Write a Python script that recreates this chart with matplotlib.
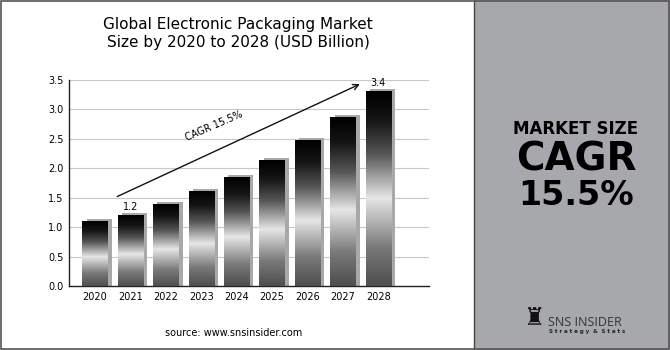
import numpy as np
import matplotlib.pyplot as plt
from matplotlib.colors import LinearSegmentedColormap
from matplotlib.patches import Rectangle
from matplotlib.lines import Line2D

# chart data
years = ['2020', '2021', '2022', '2023', '2024', '2025', '2026', '2027', '2028']
market_size = [1.1, 1.2, 1.38, 1.6, 1.85, 2.14, 2.47, 2.86, 3.3]
bar_labels = {1: '1.2', 8: '3.4'}
cagr_text = 'CAGR 15.5%'

PANEL_GREY = '#a7a8ab'

plt.rcParams['font.family'] = ['DejaVu Sans']


def px(x, y):
    # figure fraction from pixel coords (top-left origin)
    return x / 670, 1 - y / 350


fig = plt.figure(figsize=(6.7, 3.5), dpi=100)

# right grey panel and frame
fig.patches.append(Rectangle((474 / 670, 0), 1 - 474 / 670, 1, transform=fig.transFigure,
                             facecolor=PANEL_GREY, edgecolor='none', zorder=0))
fig.patches.append(Rectangle((0.0015, 0.003), 0.997, 0.994, transform=fig.transFigure,
                             facecolor='none', edgecolor='#555555', lw=1.2, zorder=5))
fig.lines.append(Line2D([474 / 670, 474 / 670], [0, 1], transform=fig.transFigure,
                        color='#444444', lw=1.0, zorder=5))

ax = fig.add_axes([69 / 670, 1 - 286 / 350, 360 / 670, 206 / 350])
ax.set_yticks(np.arange(0, 3.51, 0.5))
ax.set_yticklabels(['%.1f' % v for v in np.arange(0, 3.51, 0.5)], fontsize=7)
ax.set_xticks(range(len(years)))
ax.set_xticklabels(years, fontsize=7)
ax.tick_params(length=0, pad=4)
ax.grid(axis='y', color='#c8c8c8', lw=0.8)
ax.set_axisbelow(True)
for s in ['top', 'right']:
    ax.spines[s].set_visible(False)
for s in ['left', 'bottom']:
    ax.spines[s].set_color('#222222')
    ax.spines[s].set_linewidth(1.0)

cmap = LinearSegmentedColormap.from_list('metal', [
    (0.0, '#4e4e4e'), (0.2, '#7a7a7a'), (0.45, '#e6e6e6'),
    (0.68, '#555555'), (0.85, '#151515'), (1.0, '#000000')])
grad = np.linspace(0, 1, 256).reshape(-1, 1)

w = 0.71
for i, v in enumerate(market_size):
    # shadow
    ax.add_patch(Rectangle((i - w / 2 + 0.12, 0), w, v + 0.04, facecolor='#a8a8a8',
                           edgecolor='none', zorder=2))
    ax.imshow(grad, cmap=cmap, origin='lower', aspect='auto',
              extent=(i - w / 2, i + w / 2, 0, v), zorder=3)
    if i in bar_labels:
        ax.text(i, v + 0.06, bar_labels[i], ha='center', va='bottom', fontsize=7, zorder=4)

ax.set_xlim(-0.73, 9.43)
ax.set_ylim(0, 3.5)

ax.annotate('', xy=(7.55, 3.45), xytext=(0.56, 1.5),
            arrowprops=dict(arrowstyle='->', color='#111111', lw=1.0))
ax.text(3.35, 2.72, cagr_text, rotation=23.5, fontsize=7, ha='center', va='center')

fig.text(*px(238, 29), 'Global Electronic Packaging Market', ha='center', va='baseline',
         fontsize=11)
fig.text(*px(238, 47), 'Size by 2020 to 2028 (USD Billion)', ha='center', va='baseline',
         fontsize=11)
fig.text(*px(234, 333), 'source: www.snsinsider.com', ha='center', va='center',
         fontsize=7)

# right panel text
fig.text(*px(576, 134), 'MARKET SIZE', ha='center', va='baseline', fontsize=12,
         fontweight='bold')
fig.text(*px(576, 170), 'CAGR', ha='center', va='baseline', fontsize=28,
         fontweight='bold')
fig.text(*px(576, 205), '15.5%', ha='center', va='baseline', fontsize=24,
         fontweight='bold')
fig.text(*px(548, 322), 'SNS INSIDER', ha='left', va='center', fontsize=9,
         color='#333333', family=['Open Sans', 'DejaVu Sans'])
fig.text(*px(549, 332), 'S t r a t e g y  &  S t a t s', ha='left', va='center', fontsize=4,
         color='#222222', fontweight='bold')
fig.text(*px(534, 318), '\u265c', ha='center', va='center', fontsize=17,
         color='#111111')

fig.savefig('out.png', dpi=100)
